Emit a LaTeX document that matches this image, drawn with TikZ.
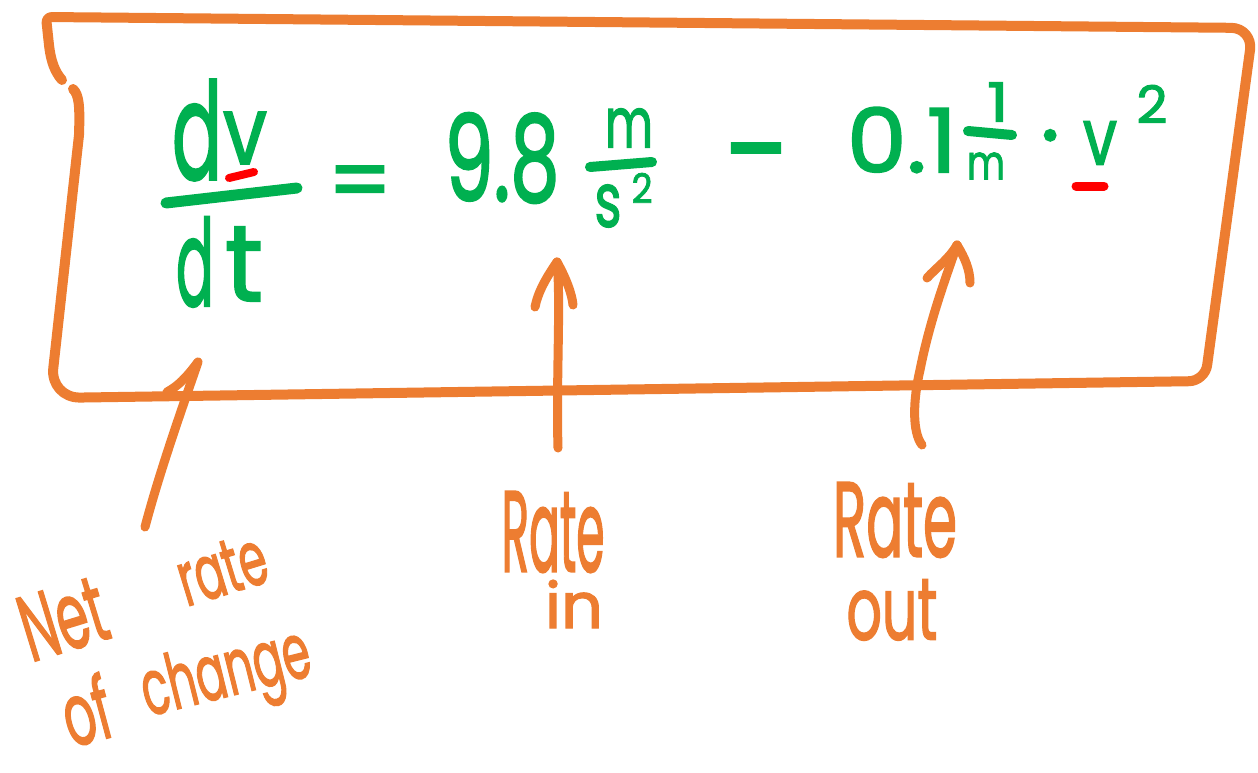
\documentclass[tikz,border=0pt]{standalone}
\usepackage{fontspec}
\usepackage{graphicx}
\newfontfamily\hand{Poppins}[AutoFakeBold=2]
\definecolor{pen}{HTML}{ED7D31}
\definecolor{ink}{HTML}{00B050}
\definecolor{mark}{HTML}{FF0000}
% handwritten word squeezed into a w x h box (pt)
\newcommand{\hw}[3]{\resizebox{#1pt}{#2pt}{\hand\bfseries\fontsize{40}{40}\selectfont #3}}
% same, but h is the total height (with descenders)
\newcommand{\hwd}[3]{\resizebox*{#1pt}{#2pt}{\hand\bfseries\fontsize{40}{40}\selectfont #3}}
\tikzset{
  boxpen/.style={draw=pen, line width=10pt, line cap=round, line join=round},
  arrowpen/.style={draw=pen, line width=9pt, line cap=round, line join=round},
  barpen/.style={draw=ink, line width=11pt, line cap=round},
  markpen/.style={draw=mark, line width=8pt, line cap=round},
  eq/.style={inner sep=0pt, text=ink},
  lbl/.style={inner sep=0pt, text=pen},
}
\begin{document}
\begin{tikzpicture}[x=1pt,y=-1pt]
\useasboundingbox (0,0) rectangle (1258,773);
\fill[white] (0,0) rectangle (1258,773);

% frame around the equation
\draw[boxpen] (73,89) .. controls (79,95) and (80,105) .. (79,135)
  [rounded corners=30] -- (50,398)
  [rounded corners=16] -- (1205,381)
  [rounded corners=22] -- (1253,28)
  [rounded corners=6] -- (46,17)
  [sharp corners] -- (49,45) .. controls (51,62) and (55,72) .. (62,80);

% equation: dv/dt = 9.8 m/s^2 - 0.1 1/m . v^2
\node[eq] (d1) at (197,130) {\hw{50}{100}{d}};
\node[eq] (v1) at (245,138) {\hw{44}{52}{v}};
\draw[barpen] (166,203) -- (297,188);
\node[eq] (d2) at (195,262) {\hw{38}{89}{d}};
\node[eq] (t2) at (244,264) {\hw{38}{74}{t}};
\draw[markpen] (229,178) -- (254,172);

\node[eq, anchor=base] (eqs) at (360,212) {\hand\bfseries\fontsize{90}{90}\selectfont =};

\node[eq] (g) at (502,158) {\hw{115}{88}{9.8}};
\node[eq] (gm) at (629,128) {\hw{48}{39}{m}};
\draw[barpen, line width=10pt] (590,167) -- (652,162);
\node[eq] (gs) at (608,206) {\hw{27}{42}{s}};
\node[eq] (g2) at (642,188) {\hw{21}{30}{2}};

\node[eq, anchor=base] (minus) at (756,192) {\hand\bfseries\fontsize{120}{120}\selectfont −};

\node[eq] (k) at (902,140) {\hw{110}{65}{0.1}};
\node[eq] (k1) at (998,102) {\hw{22}{39}{1}};
\draw[barpen, line width=10pt] (968,131) -- (1012,135);
\node[eq] (km) at (986,166) {\hw{38}{27}{m}};
\node[eq, anchor=base] (dot) at (1050,166) {\hand\bfseries\fontsize{90}{90}\selectfont ·};
\node[eq] (v) at (1100,143) {\hw{34}{43}{v}};
\node[eq] (v2) at (1152,104) {\hw{31}{38}{2}};
\draw[markpen, line width=9pt] (1076,186) -- (1104,186);

% labels
\node[lbl, rotate=17] (net) at (63,619) {\hw{86}{65}{Net}};
\node[lbl, rotate=17] (rate) at (222,569) {\hw{90}{52}{rate}};
\node[lbl, rotate=15] (of) at (86,710) {\hw{48}{66}{of}};
\node[lbl, rotate=14] (change) at (227,678) {\hwd{172}{78}{change}};
\node[lbl] (rin) at (553,532) {\hw{103}{80}{Rate}};
\node[lbl] (in) at (574,604) {\hw{58}{48}{in}};
\node[lbl] (rout) at (895,520) {\hw{124}{74}{Rate}};
\node[lbl] (out) at (892,610) {\hw{91}{60}{out}};

% arrows
\coordinate (a1t) at (145,527);
\coordinate (a1h) at (198,362);
\coordinate (a1l) at (167,392);
\coordinate (a2t) at (558,448);
\coordinate (a2h) at (557,262);
\coordinate (a2l) at (535,307);
\coordinate (a2r) at (573,305);
\coordinate (a3t) at (922,445);
\coordinate (a3h) at (957,245);
\coordinate (a3l) at (927,278);
\coordinate (a3r) at (970,283);

\draw[arrowpen] (a1t) .. controls (160,470) and (185,400) .. (a1h);
\draw[arrowpen] (a1h) .. controls (186,378) and (178,386) .. (a1l);

\draw[arrowpen] (a2t) .. controls (556,380) and (561,300) .. (a2h);
\draw[arrowpen] (a2h) .. controls (546,278) and (538,292) .. (a2l);
\draw[arrowpen] (a2h) .. controls (566,278) and (572,294) .. (a2r);

\draw[arrowpen] (a3t) .. controls (912,432) and (913,400) .. (920,370)
  .. controls (930,320) and (945,280) .. (a3h);
\draw[arrowpen] (a3h) .. controls (948,260) and (938,266) .. (a3l);
\draw[arrowpen] (a3h) .. controls (965,258) and (970,270) .. (a3r);
\end{tikzpicture}
\end{document}
